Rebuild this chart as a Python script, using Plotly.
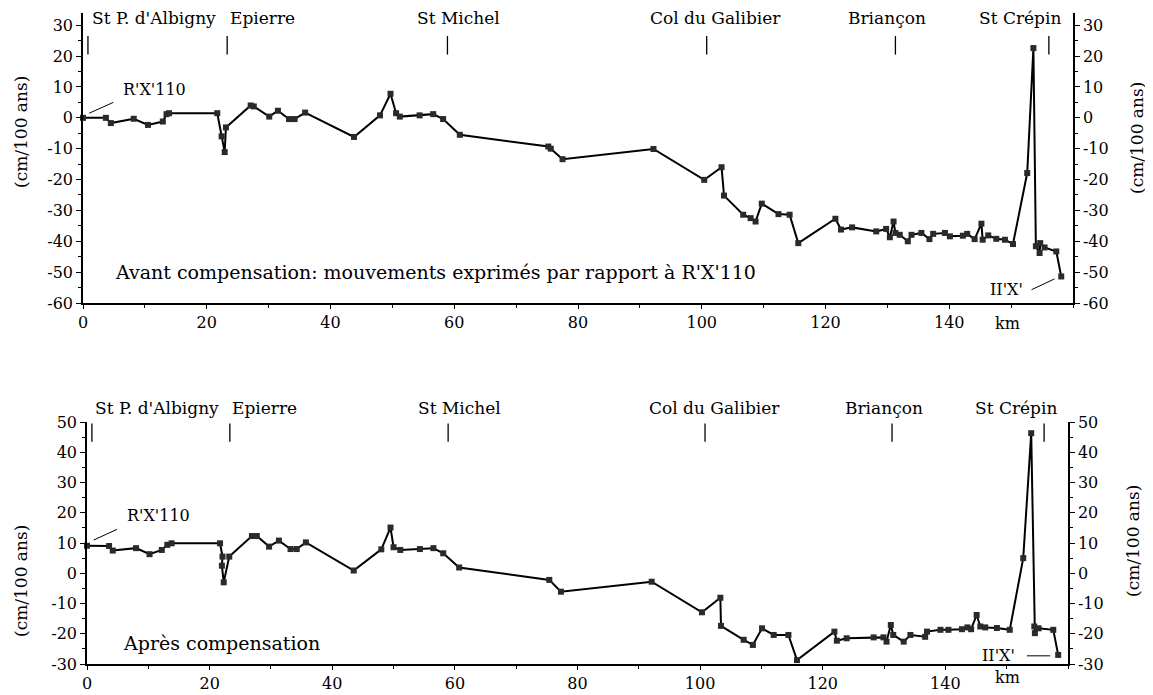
import plotly.graph_objects as go

# Avant compensation (relative to R'X'110)
km_before = [0, 3.7, 4.5, 8.2, 10.5, 12.9, 13.5, 13.9, 21.7, 22.4, 22.9, 23.1,
             27.1, 27.6, 30.1, 31.5, 33.3, 34.2, 35.9, 43.8, 48.0, 49.7, 50.6,
             51.2, 54.4, 56.6, 58.2, 60.9, 75.2, 75.6, 77.5, 92.2, 100.4, 103.2,
             103.6, 106.7, 107.9, 108.7, 109.7, 112.4, 114.2, 115.6, 121.6, 122.5,
             124.3, 128.2, 129.8, 130.4, 131.0, 131.3, 132.0, 133.3, 133.9, 135.5,
             136.8, 137.4, 139.3, 140.1, 142.2, 142.9, 144.1, 145.2, 145.4, 146.3,
             147.6, 149.0, 150.3, 152.6, 153.6, 154.0, 154.6, 154.7, 155.4, 157.3,
             158.1]
mvt_before = [0, 0, -1.7, -0.3, -2.3, -1.2, 1.2, 1.5, 1.5, -6.0, -11.1, -3.1,
              4.0, 3.7, 0.4, 2.3, -0.4, -0.4, 1.7, -6.2, 0.8, 7.8, 1.5,
              0.4, 0.8, 1.2, -0.4, -5.5, -9.3, -10.0, -13.4, -10.1, -20.1, -16.0,
              -25.2, -31.4, -32.5, -33.6, -27.8, -31.2, -31.4, -40.6, -32.7, -36.2,
              -35.5, -36.8, -36.0, -38.7, -33.6, -37.3, -37.9, -40.0, -37.9, -37.3,
              -39.3, -37.6, -37.3, -38.4, -38.2, -37.6, -39.3, -34.3, -39.5, -38.1,
              -39.2, -39.5, -40.9, -17.9, 22.6, -41.6, -43.8, -40.6, -42.0, -43.3,
              -51.4]

# Après compensation
km_after = [0, 3.6, 4.2, 8.0, 10.2, 12.2, 13.1, 13.8, 21.7, 22.1, 22.0, 22.3,
            23.2, 26.9, 27.7, 29.7, 31.3, 33.2, 34.2, 35.7, 43.5, 48.0, 49.5,
            50.0, 51.1, 54.3, 56.5, 58.1, 60.7, 75.4, 77.3, 92.1, 100.3, 103.3,
            103.4, 107.1, 108.6, 110.1, 112.0, 114.4, 115.8, 121.9, 122.3, 123.9,
            128.3, 129.9, 130.4, 131.1, 131.5, 133.2, 134.3, 136.7, 137.0, 139.2,
            140.5, 142.7, 143.6, 144.2, 145.1, 145.7, 146.5, 148.4, 150.5, 152.7,
            154.0, 154.5, 154.6, 155.2, 157.6, 158.4]
mvt_after = [9.1, 9.0, 7.5, 8.3, 6.3, 7.7, 9.4, 9.9, 9.9, 5.5, 2.5, -3.0,
             5.5, 12.3, 12.3, 8.8, 10.8, 8.0, 8.0, 10.2, 0.9, 7.9, 15.1,
             8.6, 7.7, 8.0, 8.3, 6.6, 1.9, -2.2, -6.1, -2.8, -12.9, -8.1,
             -17.4, -22.0, -23.7, -18.2, -20.4, -20.4, -28.7, -19.3, -22.3, -21.5,
             -21.2, -21.2, -22.6, -17.1, -20.4, -22.6, -20.4, -21.0, -19.3, -18.7,
             -18.7, -18.5, -17.9, -18.5, -13.8, -17.6, -17.9, -18.1, -18.7, 5.0,
             46.3, -17.6, -19.8, -18.2, -18.7, -27.0]

towns = ["St P. d'Albigny", "Epierre", "St Michel", "Col du Galibier", "Briançon", "St Crépin"]
town_km = [0.8, 23.3, 58.9, 100.8, 131.3, 156.1]
town_label_km = [11.4, 29.0, 60.7, 102.3, 130.0, 151.5]

x_ticks = [0, 20, 40, 60, 80, 100, 120, 140]
top_ticks = list(range(-60, 31, 10))
bot_ticks = list(range(-30, 51, 10))

FONT = "DejaVu Serif"
YTITLE = "(cm/100 ans)"
W, H = 1153, 695
OFF = 8  # page body margin


def px_x(px):
    # screen column -> paper fraction
    return (px - OFF) / W


def py(px):
    # screen row -> paper fraction
    return 1 - (px - OFF) / H


fig = go.Figure()
for xs, ys, xa, ya, ya_r in [(km_before, mvt_before, "x", "y", "y3"),
                             (km_after, mvt_after, "x2", "y2", "y4")]:
    fig.add_trace(go.Scatter(
        x=xs, y=ys, xaxis=xa, yaxis=ya, mode="lines+markers",
        line=dict(color="#000", width=2),
        marker=dict(symbol="square", size=6, color="#2a2a2a"),
        showlegend=False, cliponaxis=False, hoverinfo="skip",
    ))
    # carrier for the right-hand axis
    fig.add_trace(go.Scatter(x=xs, y=ys, xaxis=xa, yaxis=ya_r, mode="none",
                             showlegend=False, hoverinfo="skip"))

top_dom = [py(303), py(12.9)]
bot_dom = [py(664), py(422)]


def xaxis(domain, anchor):
    return dict(domain=domain, anchor=anchor, range=[0, 160], showgrid=False, zeroline=False,
                automargin=False,
                showline=True, linecolor="black", linewidth=2, ticks="outside", ticklen=4,
                tickcolor="black", tickvals=x_ticks,
                minor=dict(dtick=10, tick0=0, ticks="outside", ticklen=3, tickcolor="black"),
                tickfont=dict(family=FONT, size=16, color="black"))


def yaxis(domain, anchor, rng, tvals, side="left", overlay=None):
    d = dict(domain=domain, anchor=anchor, range=rng, side=side, showgrid=False, zeroline=False,
             automargin=False,
             showline=True, linecolor="black", linewidth=1.5, ticks="outside", ticklen=5,
             tickcolor="black", tickvals=tvals, ticktext=[str(v) for v in tvals],
             minor=dict(dtick=5, tick0=0, ticks="outside", ticklen=3, tickcolor="black"),
             tickfont=dict(family=FONT, size=16, color="black"))
    if overlay:
        d["overlaying"] = overlay
    return d


fig.update_layout(
    width=W, height=H, margin=dict(l=0, r=0, t=0, b=0, autoexpand=False),
    paper_bgcolor="white", plot_bgcolor="white",
    font=dict(family=FONT, size=16, color="black"),
    xaxis=xaxis([px_x(83), px_x(1073)], "y"),
    yaxis=yaxis(top_dom, "x", [-60, 34], top_ticks),
    yaxis3=yaxis(top_dom, "x", [-60, 34], top_ticks, side="right", overlay="y"),
    xaxis2=xaxis([px_x(87), px_x(1068)], "y2"),
    yaxis2=yaxis(bot_dom, "x2", [-30, 50], bot_ticks),
    yaxis4=yaxis(bot_dom, "x2", [-30, 50], bot_ticks, side="right", overlay="y2"),
)


def note(xr, yr, x, y, text, size=16, angle=0):
    return dict(xref=xr, yref=yr, x=x, y=y, text=text, showarrow=False, textangle=angle,
                xanchor="center", yanchor="middle", font=dict(size=size))


shapes = []
annotations = []
panels = [("x", "y", 20.5, 26.5, py(18)), ("x2", "y2", 43.5, 49.5, py(408))]
for xr, yr, y0, y1, ylab in panels:
    for name, k, lk in zip(towns, town_km, town_label_km):
        shapes.append(dict(type="line", xref=xr, yref=yr, x0=k, x1=k, y0=y0, y1=y1,
                           line=dict(color="black", width=1.3)))
        annotations.append(note(xr, "paper", lk, ylab, name, 17))

# reference benchmarks and leader lines
shapes += [
    dict(type="line", xref="x", yref="y", x0=1.0, y0=1.5, x1=4.9, y1=5.0, line=dict(color="black", width=1)),
    dict(type="line", xref="x", yref="y", x0=153.3, y0=-55.7, x1=157.0, y1=-52.2, line=dict(color="black", width=1)),
    dict(type="line", xref="x2", yref="y2", x0=1.1, y0=11.0, x1=4.9, y1=14.5, line=dict(color="black", width=1)),
    dict(type="line", xref="x2", yref="y2", x0=153.3, y0=-27.3, x1=157.1, y1=-27.3, line=dict(color="black", width=1)),
]
annotations += [
    note("x", "y", 11.5, 9.3, "R'X'110"),
    note("x", "y", 149.3, -55.7, "II'X'"),
    note("x2", "y2", 11.6, 19.0, "R'X'110"),
    note("x2", "y2", 148.6, -27.3, "II'X'"),
    note("x", "y", 56.9, -49.8, "Avant compensation: mouvements exprimés par rapport à R'X'110", 19),
    note("x2", "y2", 21.9, -23.0, "Après compensation", 19),
    note("x", "paper", 149.4, py(323), "km"),
    note("x2", "paper", 150.1, py(677), "km"),
    # axis titles
    note("paper", "paper", px_x(21), py(132), YTITLE, 17, -90),
    note("paper", "paper", px_x(1137), py(138), YTITLE, 17, -90),
    note("paper", "paper", px_x(21), py(581), YTITLE, 17, -90),
    note("paper", "paper", px_x(1133), py(541), YTITLE, 17, -90),
]
fig.update_layout(shapes=shapes, annotations=annotations)

fig.write_html("out.html")
